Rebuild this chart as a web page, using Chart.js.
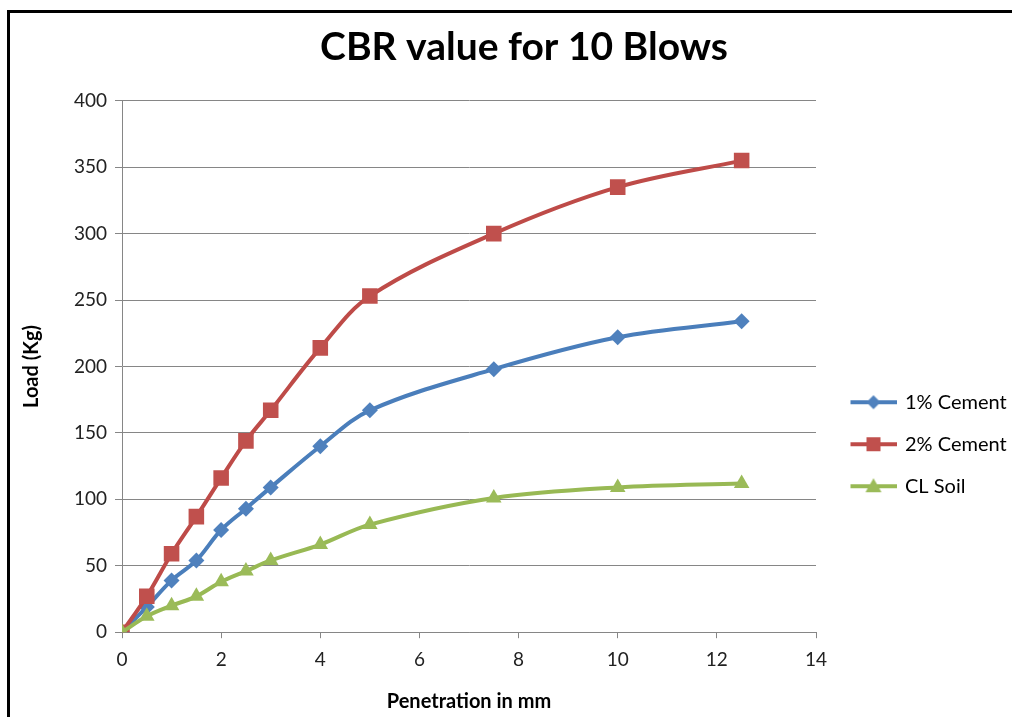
<!DOCTYPE html>
<html>
<head>
<meta charset="utf-8">
<script src="https://cdn.jsdelivr.net/npm/chart.js@4/dist/chart.umd.min.js"></script>
<style>
  html, body { margin: 0; padding: 0; background: #fff; overflow: hidden; }
  #wrap { position: relative; width: 1012px; height: 717px; }
  #frame { position: absolute; left: 7px; top: 10px; width: 1100px; height: 800px; border: 3px solid #000; pointer-events: none; }
  canvas { position: absolute; left: 0; top: 0; }
</style>
</head>
<body>
<div id="wrap">
  <div id="frame"></div>
  <canvas id="cbrChart" width="1012" height="717"></canvas>
</div>
<script>
// values
const penetration = [0, 0.5, 1, 1.5, 2, 2.5, 3, 4, 5, 7.5, 10, 12.5];
const cement1 = [0, 19, 39, 54, 77, 93, 109, 140, 167, 198, 222, 234];
const cement2 = [0, 27, 59, 87, 116, 144, 167, 214, 253, 300, 335, 355];
const clSoil = [0, 12, 20, 27, 38, 46, 54, 66, 81, 101, 109, 112];
const seriesNames = ['1% Cement', '2% Cement', 'CL Soil'];
const xTicks = [0, 2, 4, 6, 8, 10, 12, 14];
const yTicks = [0, 50, 100, 150, 200, 250, 300, 350, 400];

const FONT = 'Lato, "Open Sans", sans-serif';
const lineColors = ['#4A7EBB', '#BE4B48', '#98B954'];
const markColors = ['#4F81BD', '#C0504D', '#9BBB59'];

// legend icon: short line with the marker in the middle
function legendIcon(i) {
    const c = document.createElement('canvas');
    c.width = 60;
    c.height = 20;
    const ctx = c.getContext('2d');
    ctx.strokeStyle = lineColors[i];
    ctx.lineWidth = 4;
    ctx.beginPath();
    ctx.moveTo(14, 10);
    ctx.lineTo(60, 10);
    ctx.stroke();
    ctx.fillStyle = markColors[i];
    ctx.beginPath();
    const cx = 37, cy = 10;
    if (i === 0) {
        ctx.moveTo(cx, cy - 7); ctx.lineTo(cx + 7, cy); ctx.lineTo(cx, cy + 7); ctx.lineTo(cx - 7, cy);
    } else if (i === 1) {
        ctx.rect(cx - 7, cy - 7, 14, 14);
    } else {
        ctx.moveTo(cx, cy - 8); ctx.lineTo(cx + 8, cy + 6); ctx.lineTo(cx - 8, cy + 6);
    }
    ctx.closePath();
    ctx.fill();
    return c;
}
const icons = [0, 1, 2].map(legendIcon);

const toPoints = ys => penetration.map((x, i) => ({ x: x, y: ys[i] }));

function series(i, ys, style, radius, order) {
    return {
        label: seriesNames[i],
        data: toPoints(ys),
        borderColor: lineColors[i],
        backgroundColor: markColors[i],
        pointBackgroundColor: markColors[i],
        pointBorderWidth: 0,
        pointStyle: style,
        pointRadius: radius,
        borderWidth: 4,
        tension: 0.35,
        order: order
    };
}

const ctx = document.getElementById('cbrChart').getContext('2d');
new Chart(ctx, {
    type: 'line',
    data: {
        datasets: [
            series(0, cement1, 'rectRot', 8, 3),
            series(1, cement2, 'rect', 11, 2),
            series(2, clSoil, 'triangle', 9, 1)
        ]
    },
    options: {
        responsive: false,
        animation: false,
        layout: { padding: { left: 36, top: 10, right: 0, bottom: 3 } },
        plugins: {
            tooltip: { enabled: false },
            title: {
                display: true,
                text: 'CBR value for 10 Blows',
                color: '#000',
                font: { family: FONT, size: 39, weight: 'bold' },
                padding: { top: 14, bottom: 30 }
            },
            legend: {
                position: 'right',
                maxWidth: 196,
                title: { display: true, text: '', padding: { top: 150, bottom: 0 } },
                labels: {
                    usePointStyle: true,
                    pointStyleWidth: 57,
                    boxHeight: 20,
                    padding: 22,
                    color: '#000',
                    font: { family: FONT, size: 20 },
                    generateLabels: chart => chart.data.datasets.map((ds, i) => ({
                        text: ds.label,
                        pointStyle: icons[i],
                        fillStyle: markColors[i],
                        strokeStyle: lineColors[i],
                        lineWidth: 0,
                        hidden: false,
                        datasetIndex: i,
                        fontColor: '#000'
                    }))
                }
            }
        },
        scales: {
            x: {
                type: 'linear',
                min: xTicks[0],
                max: xTicks[xTicks.length - 1],
                ticks: { stepSize: xTicks[1] - xTicks[0], color: '#222', padding: 10, font: { family: FONT, size: 19 } },
                grid: { drawOnChartArea: false, drawTicks: true, tickLength: 6, color: '#868686' },
                border: { color: '#868686', width: 1 },
                title: {
                    display: true,
                    text: 'Penetration in mm',
                    color: '#000',
                    font: { family: FONT, size: 20, weight: 'bold' },
                    padding: { top: 9, bottom: 0 }
                }
            },
            y: {
                min: yTicks[0],
                max: yTicks[yTicks.length - 1],
                ticks: { stepSize: yTicks[1] - yTicks[0], color: '#222', padding: 8, font: { family: FONT, size: 19 } },
                grid: { color: '#868686', tickLength: 7 },
                border: { color: '#868686', width: 1 },
                title: {
                    display: true,
                    text: 'Load (Kg)',
                    color: '#000',
                    font: { family: FONT, size: 20, weight: 'bold' },
                    padding: { top: -16, bottom: 0 }
                },
                afterFit: scale => { scale.width = 86; }
            }
        }
    }
});
</script>
</body>
</html>
